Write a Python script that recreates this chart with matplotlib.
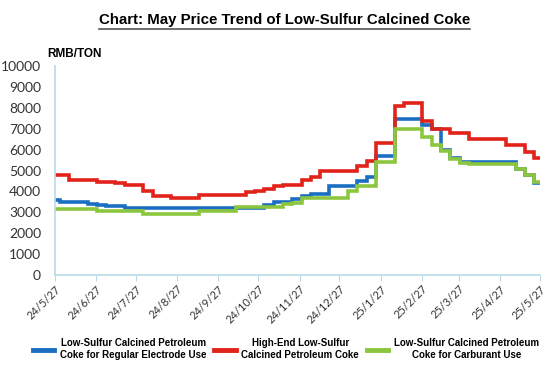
import pandas as pd
import numpy as np
import matplotlib.pyplot as plt
from matplotlib.lines import Line2D

# weekly readings, 2024-05-27 .. 2025-05-26
weeks = pd.date_range("2024-05-27", periods=53, freq="7D")

regular = [3600, 3500, 3500, 3500, 3400, 3350, 3300, 3300, 3200, 3200,
           3200, 3200, 3200, 3200, 3200, 3200, 3200, 3200, 3200, 3200,
           3200, 3200, 3200, 3350, 3500, 3500, 3650, 3800, 3900, 3900,
           4250, 4250, 4250, 4500, 4700, 5700, 5700, 7450, 7450, 7450,
           7200, 7000, 6000, 5600, 5400, 5400, 5400, 5400, 5400, 5400,
           5050, 4800, 4400]
high_end = [4800, 4800, 4550, 4550, 4550, 4450, 4450, 4400, 4300, 4300,
            4000, 3800, 3800, 3700, 3700, 3700, 3850, 3850, 3850, 3850,
            3850, 3950, 4000, 4100, 4250, 4300, 4300, 4550, 4700, 5000,
            5000, 5000, 5000, 5200, 5450, 6300, 6300, 8100, 8250, 8250,
            7350, 7000, 7000, 6800, 6800, 6500, 6500, 6500, 6500, 6200,
            6200, 5900, 5600]
carburant = [3150, 3150, 3150, 3150, 3150, 3050, 3050, 3050, 3050, 3050,
             2900, 2900, 2900, 2900, 2900, 2900, 3050, 3050, 3050, 3050,
             3250, 3250, 3250, 3250, 3250, 3400, 3450, 3700, 3700, 3700,
             3700, 3700, 4000, 4250, 4250, 5400, 5400, 7000, 7000, 7000,
             6600, 6200, 5950, 5550, 5350, 5330, 5330, 5330, 5330, 5330,
             5050, 4800, 4450]

labels = ["Low-Sulfur Calcined Petroleum\nCoke for Regular Electrode Use",
          "High-End Low-Sulfur\nCalcined Petroleum Coke",
          "Low-Sulfur Calcined Petroleum\nCoke for Carburant Use"]
colors = ["#1B6EC2", "#E2231A", "#8CC63F"]

fig = plt.figure(figsize=(5.5, 3.67), dpi=100)
ax = fig.add_axes([0.1, 0.2507, 0.882, 0.5693])

for vals, c in zip([regular, high_end, carburant], colors):
    ax.plot(weeks, vals, color=c, lw=2.6, drawstyle="steps-mid",
            solid_joinstyle="miter")

ax.set_ylim(0, 10000)
ax.set_yticks(np.arange(0, 10001, 1000))
ax.set_xlim(pd.Timestamp("2024-05-27"), pd.Timestamp("2025-05-27"))
ticks = pd.date_range("2024-05-01", periods=13, freq="MS") + pd.Timedelta(days=26)
ax.set_xticks(ticks)
ax.set_xticklabels([f"{d.year % 100}/{d.month}/{d.day}" for d in ticks],
                   rotation=45, ha="right", rotation_mode="anchor",
                   fontsize=8, family="Lato", color="#333333")
for t in ax.get_yticklabels():
    t.set_family("Lato")
    t.set_fontsize(10)
    t.set_color("#333333")

for s in ["top", "right"]:
    ax.spines[s].set_visible(False)
for s in ["left", "bottom"]:
    ax.spines[s].set_color("#B7DCE8")
    ax.spines[s].set_linewidth(1.2)
ax.tick_params(axis="y", length=0, pad=10)
ax.tick_params(axis="x", length=4, color="#B7DCE8", pad=2)

fig.text(0.085, 0.845, "RMB/TON", fontsize=8.5, fontweight="bold",
         family="Liberation Sans")

title = fig.text(0.517, 0.935, "Chart: May Price Trend of Low-Sulfur Calcined Coke",
                 ha="center", va="baseline", fontsize=10.8, fontweight="bold",
                 family="Liberation Sans")
fig.canvas.draw()
bb = title.get_window_extent().transformed(fig.transFigure.inverted())
fig.add_artist(Line2D([bb.x0, bb.x1], [bb.y0 - 0.006, bb.y0 - 0.006],
                      color="#555555", lw=1.2, transform=fig.transFigure))

handles = [Line2D([], [], color=c, lw=3.5) for c in colors]
leg = fig.legend(handles, labels, loc="lower center", ncol=3,
                 bbox_to_anchor=(0.52, -0.005), frameon=False,
                 prop={"family": "Liberation Sans", "weight": "bold", "size": 7},
                 handlelength=2.2, handletextpad=0.6, columnspacing=0.8)
for t in leg.get_texts():
    t.set_multialignment("center")

fig.savefig("out.png", dpi=100)
